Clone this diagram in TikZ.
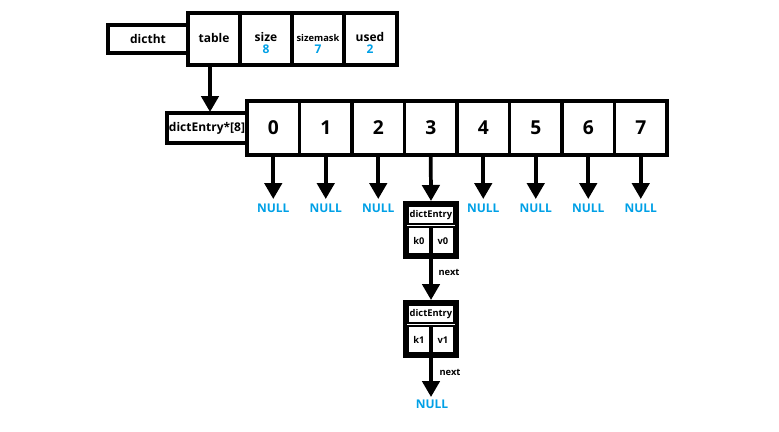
\documentclass[tikz,border=0pt]{standalone}
\usepackage{fontspec}
\setmainfont{Open Sans}
\usetikzlibrary{arrows.meta}
\definecolor{nb}{RGB}{0,160,230}
\begin{document}
\begin{tikzpicture}[x=0.75pt,y=-0.75pt,
 box/.style={draw,line width=2.6pt,inner sep=0pt},
 arr/.style={line width=2.8pt,-{Triangle[length=12pt,width=13pt]}},
 lbl/.style={font=\bfseries\small},
 nul/.style={font=\bfseries\small,text=nb}]
\useasboundingbox (0,0) rectangle (779,432);
% dictht
\node[box,minimum width=80*0.75pt,minimum height=28*0.75pt,font=\bfseries\small] (dictht) at (148,39) {dictht};
\foreach \n/\xa/\xb in {table/188/240,size/240/292,mask/292/344,used/344/397}{
  \draw[line width=2.6pt] (\xa,13) rectangle (\xb,65);
  \coordinate (\n) at ({(\xa+\xb)/2},39);
}
\node[lbl] (t1) at (214,38) {table};
\node[lbl] (t2) at (266,37) {size};
\node[nul] (t2v) at (266,49) {8};
\node[font=\bfseries\scriptsize] (t3) at (318,38) {sizemask};
\node[nul] (t3v) at (318,49) {7};
\node[lbl] (t4) at (370,37) {used};
\node[nul] (t4v) at (370,49) {2};
\coordinate (tb) at (210,67);
\coordinate (tt) at (210,112);
\draw[arr] (tb) -- (tt);
% array
\node[box,minimum width=80*0.75pt,minimum height=30*0.75pt,font=\bfseries\small] (de) at (207,128) {dictEntry*[8]};
\foreach \i in {0,...,7}{
  \pgfmathsetmacro{\xa}{247+52.5*\i}
  \draw[line width=2.6pt] (\xa,101) rectangle ({\xa+52.5},155);
  \node[font=\bfseries\Large] (c\i) at ({\xa+26.25},128) {\i};
  \coordinate (b\i) at ({\xa+26.25},157);
}
\foreach \i in {0,1,2,4,5,6,7}{
  \pgfmathsetmacro{\xc}{247+52.5*\i+26.25}
  \node[nul] (n\i) at (\xc,208) {NULL};
  \coordinate (e\i) at (\xc,199);
  \draw[arr] (b\i) -- (e\i);
}
\coordinate (e3) at (431,201);
\draw[arr] (b3) -- (e3);
% entries
\foreach \k/\y in {0/203,1/302}{
  \draw[line width=2.6pt] (405,\y) rectangle (457,\y+54);
  \draw[line width=1.4pt] (408,\y+3) rectangle (454,\y+21) (408,\y+24) rectangle (430,\y+51) (432,\y+24) rectangle (454,\y+51);
  \node[font=\bfseries\scriptsize] (h\k) at (431,\y+12) {dictEntry};
  \node[font=\bfseries\scriptsize] (k\k) at (419,\y+38) {k\k};
  \node[font=\bfseries\scriptsize] (v\k) at (443,\y+38) {v\k};
}
\coordinate (s0) at (431,259);
\coordinate (s1) at (431,300);
\draw[arr] (s0) -- (s1);
\node[font=\bfseries\scriptsize] (nx0) at (449,272) {next};
\coordinate (s2) at (431,358);
\coordinate (s3) at (431,397);
\draw[arr] (s2) -- (s3);
\node[font=\bfseries\scriptsize] (nx1) at (450,372) {next};
\node[nul] (nf) at (432,404) {NULL};
\end{tikzpicture}
\end{document}
